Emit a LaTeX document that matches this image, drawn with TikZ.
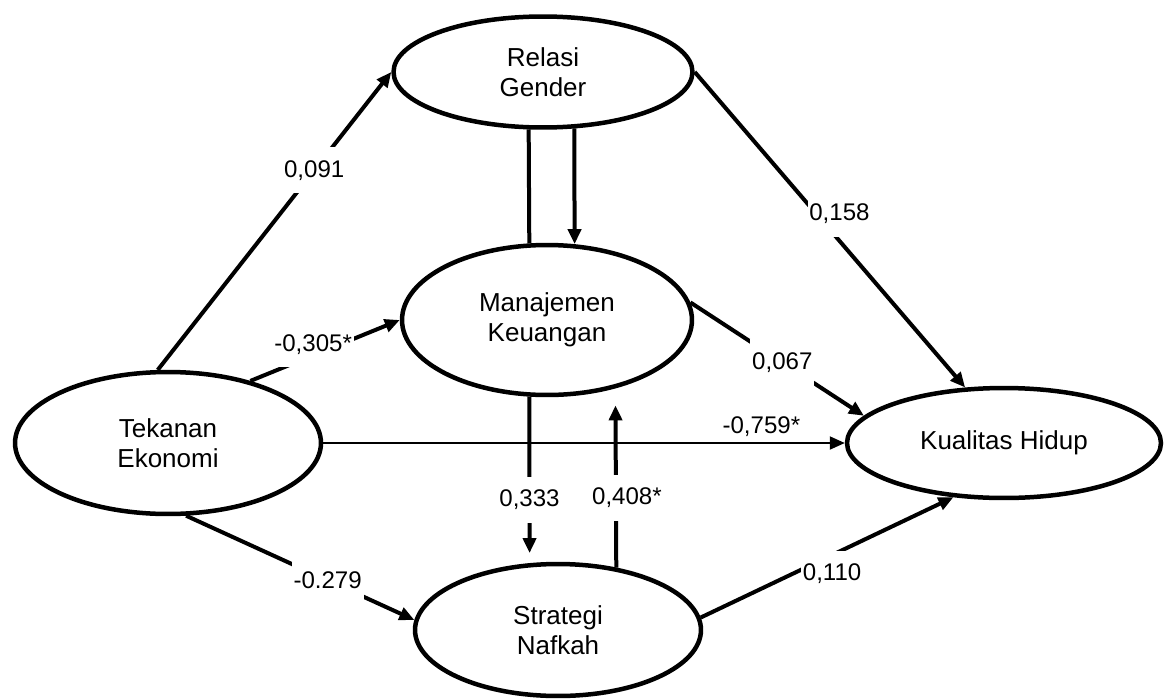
\documentclass[tikz,border=0pt]{standalone}
\usepackage{fontspec}
\setmainfont{Liberation Sans}
\usetikzlibrary{arrows.meta, shapes.geometric}

\tikzset{
  var/.style={ellipse, draw, line width=0.09cm, inner sep=0pt, align=center,
    font=\fontsize{14.8}{17}\selectfont},
  link/.style={line width=0.08cm, -{Triangle[length=0.3cm, width=0.26cm]}},
  coef/.style={fill=white, inner xsep=1pt, inner ysep=7.5pt,
    font=\fontsize{13.7}{16}\selectfont},
}

\begin{document}
\begin{tikzpicture}[x=0.02cm, y=-0.02cm]
  \useasboundingbox (0,0) rectangle (1167,700);

  % Variables
  \node[var, minimum width=6.12cm, minimum height=2.84cm] (TE) at (168,443) {Tekanan\\Ekonomi};
  \node[var, minimum width=5.98cm, minimum height=2.22cm] (RG) at (543,72) {Relasi\\Gender};
  \node[var, minimum width=5.8cm, minimum height=3cm] (MK) at (547,320) {Manajemen\\Keuangan};
  \node[var, minimum width=5.72cm, minimum height=2.64cm] (SN) at (558,630) {Strategi\\Nafkah};
  \node[var, minimum width=6.28cm, minimum height=2.2cm] (KH) at (1004,443) {Kualitas Hidup};

  % Paths
  \draw[link] (TE.98) -- node[coef, pos=0.67] {0,091} (RG.west);
  \draw[link] (TE.37) -- node[coef, pos=0.42, yshift=0.22cm] {-0,305*} (MK.west);
  \draw[link, line width=0.04cm] (TE.east) -- node[above, pos=0.84, font=\fontsize{13.7}{16}\selectfont] {-0,759*} (KH.west);
  \draw[link] (TE.-76) -- node[coef, pos=0.62] {-0.279} (SN.176);
  \draw[line width=0.08cm] (RG.-104) -- (MK.103);
  \draw[link] (RG.-61) -- (MK.70);
  \draw[link, shorten >=0.2cm] (MK.-103) -- node[coef, pos=0.62] {0,333} (SN.113);
  \draw[link, shorten >=0.34cm] (SN.47) -- node[coef, pos=0.39, xshift=0.22cm] {0,408*} (MK.-45);
  \draw[link] (MK.7) -- node[coef, pos=0.53] {0,067} (KH.169);
  \draw[link] (RG.east) -- node[coef, pos=0.45, xshift=0.46cm] {0,158} (KH.125);
  \draw[link] (SN.5) -- node[coef, pos=0.52, yshift=-0.38cm] {0,110} (KH.-133);
\end{tikzpicture}
\end{document}
